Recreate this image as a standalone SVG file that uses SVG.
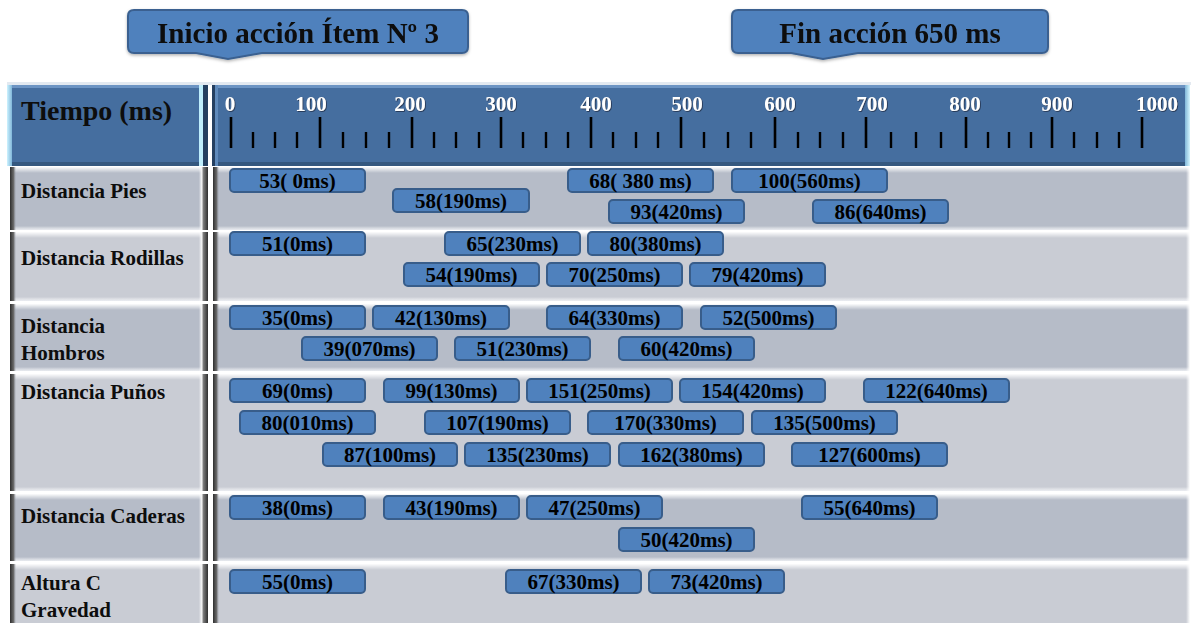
<svg xmlns="http://www.w3.org/2000/svg" width="1192" height="623" viewBox="0 0 1192 623">
  <defs>
    <linearGradient id="topHi" x1="0" y1="0" x2="0" y2="1">
      <stop offset="0" stop-color="#ffffff" stop-opacity="0.95"/>
      <stop offset="1" stop-color="#ffffff" stop-opacity="0"/>
    </linearGradient>
    <linearGradient id="botHi" x1="0" y1="0" x2="0" y2="1">
      <stop offset="0" stop-color="#ffffff" stop-opacity="0"/>
      <stop offset="1" stop-color="#eef0f4" stop-opacity="0.9"/>
    </linearGradient>
    <linearGradient id="leftDk" x1="0" y1="0" x2="1" y2="0">
      <stop offset="0" stop-color="#2e2e2e"/>
      <stop offset="0.6" stop-color="#6a6a6a"/>
      <stop offset="1" stop-color="#8a8f99" stop-opacity="0"/>
    </linearGradient>
    <linearGradient id="rightDk" x1="0" y1="0" x2="1" y2="0">
      <stop offset="0" stop-color="#ffffff" stop-opacity="0"/>
      <stop offset="0.3" stop-color="#f4f4f4"/>
      <stop offset="0.5" stop-color="#7a7a7a"/>
      <stop offset="1" stop-color="#2e2e2e"/>
    </linearGradient>
    <linearGradient id="rightHi" x1="0" y1="0" x2="1" y2="0">
      <stop offset="0" stop-color="#ffffff" stop-opacity="0"/>
      <stop offset="1" stop-color="#ffffff"/>
    </linearGradient>
    <linearGradient id="hdrCyanL" x1="0" y1="0" x2="1" y2="0">
      <stop offset="0" stop-color="#cdf3ff"/>
      <stop offset="1" stop-color="#7fb6d9"/>
    </linearGradient>
    <linearGradient id="hdrCyanR" x1="0" y1="0" x2="1" y2="0">
      <stop offset="0" stop-color="#7fb6d9"/>
      <stop offset="1" stop-color="#d6f7ff"/>
    </linearGradient>
    <filter id="lblShadow" x="-20%" y="-20%" width="140%" height="140%">
      <feDropShadow dx="0.8" dy="0.8" stdDeviation="0.6" flood-color="#1a2a40" flood-opacity="0.9"/>
    </filter>
    <filter id="boxShadow" x="-5%" y="-10%" width="110%" height="130%">
      <feDropShadow dx="0" dy="1.5" stdDeviation="1.5" flood-color="#000" flood-opacity="0.3"/>
    </filter>
  </defs>
  <style>
    text { font-family: "Liberation Serif", "Times New Roman", serif; font-weight: bold; }
    .callout { fill: #4f81bd; stroke: #3a6190; stroke-width: 2; }
    .callTxt { font-size: 29px; fill: #0d0d0d; text-anchor: middle; }
    .hdr { fill: #456e9f; }
    .hdrTop { fill: #6c94c3; }
    .hdrBot { fill: #35587f; }
    .hdrTitle { font-size: 28px; fill: #0d0d0d; }
    .tickLbl { font-size: 21px; fill: #ffffff; text-anchor: middle; }
    .major { stroke: #000; stroke-width: 2.6; }
    .minor { stroke: #000; stroke-width: 2.4; }
    .cellA { fill: #b6bcc8; }
    .cellB { fill: #c9ccd4; }
    .rowLbl { font-size: 21px; fill: #0d0d0d; }
    .bar rect { fill: #4f81bd; stroke: #385d8a; stroke-width: 2; }
    .bar text { font-size: 21px; fill: #000; text-anchor: middle; }
  </style>

  <rect width="1192" height="623" fill="#ffffff"/>

  <!-- Callouts -->
  <g id="callout-inicio" filter="url(#boxShadow)">
    <path class="callout" d="M134,10 H462 Q468,10 468,16 V47 Q468,53 462,53 H262 L228,59 L196,53 H134 Q128,53 128,47 V16 Q128,10 134,10 Z"/>
    <text class="callTxt" x="298" y="43">Inicio acción Ítem Nº 3</text>
  </g>
  <g id="callout-fin" filter="url(#boxShadow)">
    <path class="callout" d="M738,10 H1042 Q1048,10 1048,16 V47 Q1048,53 1042,53 H858 L823,59 L791,53 H738 Q732,53 732,47 V16 Q732,10 738,10 Z"/>
    <text class="callTxt" x="890" y="43">Fin acción 650 ms</text>
  </g>

  <!-- table top line -->
  <rect x="7" y="82" width="1184" height="3" fill="#e3e9f0"/>

  <!-- Header -->
  <g id="header-label">
    <rect class="hdr" x="7" y="85" width="201" height="81"/>
    <rect class="hdrTop" x="7" y="85" width="201" height="3"/>
    <rect class="hdrBot" x="7" y="162" width="201" height="4"/>
    <rect x="7" y="85" width="5" height="81" fill="url(#hdrCyanL)"/>
    <rect x="199" y="85" width="4" height="81" fill="#bfeefc"/>
    <rect x="203" y="85" width="5" height="81" fill="#243f60"/>
    <text class="hdrTitle" x="21" y="120">Tiempo (ms)</text>
  </g>
  <g id="header-scale">
    <rect class="hdr" x="212" y="85" width="978" height="81"/>
    <rect class="hdrTop" x="212" y="85" width="978" height="3"/>
    <rect class="hdrBot" x="212" y="162" width="978" height="4"/>
    <rect x="212" y="85" width="3" height="81" fill="#243f60"/>
    <rect x="215" y="85" width="3" height="81" fill="#5f8abb"/>
    <rect x="1185" y="85" width="5" height="81" fill="url(#hdrCyanR)"/>
    <g filter="url(#lblShadow)">
      <text class="tickLbl" x="230" y="111">0</text>
      <text class="tickLbl" x="311" y="111">100</text>
      <text class="tickLbl" x="410" y="111">200</text>
      <text class="tickLbl" x="501" y="111">300</text>
      <text class="tickLbl" x="596" y="111">400</text>
      <text class="tickLbl" x="687" y="111">500</text>
      <text class="tickLbl" x="780" y="111">600</text>
      <text class="tickLbl" x="872" y="111">700</text>
      <text class="tickLbl" x="965" y="111">800</text>
      <text class="tickLbl" x="1057" y="111">900</text>
      <text class="tickLbl" x="1157" y="111">1000</text>
    </g>
    <g class="major">
      <line x1="231" y1="117" x2="231" y2="148"/>
      <line x1="320" y1="117" x2="320" y2="148"/>
      <line x1="412" y1="117" x2="412" y2="148"/>
      <line x1="501" y1="117" x2="501" y2="148"/>
      <line x1="591" y1="117" x2="591" y2="148"/>
      <line x1="681" y1="117" x2="681" y2="148"/>
      <line x1="775" y1="117" x2="775" y2="148"/>
      <line x1="866" y1="117" x2="866" y2="148"/>
      <line x1="966" y1="117" x2="966" y2="148"/>
      <line x1="1052" y1="117" x2="1052" y2="148"/>
      <line x1="1142" y1="117" x2="1142" y2="148"/>
    </g>
    <g class="minor">
      <line x1="253" y1="132" x2="253" y2="148"/>
      <line x1="275" y1="132" x2="275" y2="148"/>
      <line x1="297" y1="132" x2="297" y2="148"/>
      <line x1="343" y1="132" x2="343" y2="148"/>
      <line x1="366" y1="132" x2="366" y2="148"/>
      <line x1="389" y1="132" x2="389" y2="148"/>
      <line x1="434" y1="132" x2="434" y2="148"/>
      <line x1="456" y1="132" x2="456" y2="148"/>
      <line x1="479" y1="132" x2="479" y2="148"/>
      <line x1="523" y1="132" x2="523" y2="148"/>
      <line x1="546" y1="132" x2="546" y2="148"/>
      <line x1="568" y1="132" x2="568" y2="148"/>
      <line x1="613" y1="132" x2="613" y2="148"/>
      <line x1="636" y1="132" x2="636" y2="148"/>
      <line x1="658" y1="132" x2="658" y2="148"/>
      <line x1="704" y1="132" x2="704" y2="148"/>
      <line x1="728" y1="132" x2="728" y2="148"/>
      <line x1="751" y1="132" x2="751" y2="148"/>
      <line x1="798" y1="132" x2="798" y2="148"/>
      <line x1="820" y1="132" x2="820" y2="148"/>
      <line x1="843" y1="132" x2="843" y2="148"/>
      <line x1="891" y1="132" x2="891" y2="148"/>
      <line x1="916" y1="132" x2="916" y2="148"/>
      <line x1="941" y1="132" x2="941" y2="148"/>
      <line x1="988" y1="132" x2="988" y2="148"/>
      <line x1="1009" y1="132" x2="1009" y2="148"/>
      <line x1="1031" y1="132" x2="1031" y2="148"/>
      <line x1="1074" y1="132" x2="1074" y2="148"/>
      <line x1="1097" y1="132" x2="1097" y2="148"/>
      <line x1="1119" y1="132" x2="1119" y2="148"/>
    </g>
  </g>

  <!-- Row 1 -->
  <g id="row-pies">
    <rect class="cellA" x="10" y="167" width="198" height="63"/>
    <rect x="10" y="167" width="198" height="6" fill="url(#topHi)"/>
    <rect x="10" y="226" width="198" height="4" fill="url(#botHi)"/>
    <rect x="10" y="167" width="6" height="63" fill="url(#leftDk)"/>
    <rect x="199" y="167" width="9" height="63" fill="url(#rightDk)"/>
    <rect class="cellA" x="213" y="167" width="977" height="63"/>
    <rect x="213" y="167" width="977" height="6" fill="url(#topHi)"/>
    <rect x="213" y="226" width="977" height="4" fill="url(#botHi)"/>
    <rect x="213" y="167" width="6" height="63" fill="url(#leftDk)"/>
    <rect x="1186" y="167" width="4" height="63" fill="url(#rightHi)"/>
    <text class="rowLbl" x="21" y="198">Distancia Pies</text>
  </g>
  <!-- Row 2 -->
  <g id="row-rodillas">
    <rect class="cellB" x="10" y="232" width="198" height="69"/>
    <rect x="10" y="232" width="198" height="6" fill="url(#topHi)"/>
    <rect x="10" y="297" width="198" height="4" fill="url(#botHi)"/>
    <rect x="10" y="232" width="6" height="69" fill="url(#leftDk)"/>
    <rect x="199" y="232" width="9" height="69" fill="url(#rightDk)"/>
    <rect class="cellB" x="213" y="232" width="977" height="69"/>
    <rect x="213" y="232" width="977" height="6" fill="url(#topHi)"/>
    <rect x="213" y="297" width="977" height="4" fill="url(#botHi)"/>
    <rect x="213" y="232" width="6" height="69" fill="url(#leftDk)"/>
    <rect x="1186" y="232" width="4" height="69" fill="url(#rightHi)"/>
    <text class="rowLbl" x="21" y="265">Distancia Rodillas</text>
  </g>
  <!-- Row 3 -->
  <g id="row-hombros">
    <rect class="cellA" x="10" y="304" width="198" height="67"/>
    <rect x="10" y="304" width="198" height="6" fill="url(#topHi)"/>
    <rect x="10" y="367" width="198" height="4" fill="url(#botHi)"/>
    <rect x="10" y="304" width="6" height="67" fill="url(#leftDk)"/>
    <rect x="199" y="304" width="9" height="67" fill="url(#rightDk)"/>
    <rect class="cellA" x="213" y="304" width="977" height="67"/>
    <rect x="213" y="304" width="977" height="6" fill="url(#topHi)"/>
    <rect x="213" y="367" width="977" height="4" fill="url(#botHi)"/>
    <rect x="213" y="304" width="6" height="67" fill="url(#leftDk)"/>
    <rect x="1186" y="304" width="4" height="67" fill="url(#rightHi)"/>
    <text class="rowLbl" x="21" y="333">Distancia</text>
    <text class="rowLbl" x="21" y="360">Hombros</text>
  </g>
  <!-- Row 4 -->
  <g id="row-punos">
    <rect class="cellB" x="10" y="374" width="198" height="117"/>
    <rect x="10" y="374" width="198" height="6" fill="url(#topHi)"/>
    <rect x="10" y="487" width="198" height="4" fill="url(#botHi)"/>
    <rect x="10" y="374" width="6" height="117" fill="url(#leftDk)"/>
    <rect x="199" y="374" width="9" height="117" fill="url(#rightDk)"/>
    <rect class="cellB" x="213" y="374" width="977" height="117"/>
    <rect x="213" y="374" width="977" height="6" fill="url(#topHi)"/>
    <rect x="213" y="487" width="977" height="4" fill="url(#botHi)"/>
    <rect x="213" y="374" width="6" height="117" fill="url(#leftDk)"/>
    <rect x="1186" y="374" width="4" height="117" fill="url(#rightHi)"/>
    <text class="rowLbl" x="21" y="399">Distancia Puños</text>
  </g>
  <!-- Row 5 -->
  <g id="row-caderas">
    <rect class="cellA" x="10" y="494" width="198" height="67"/>
    <rect x="10" y="494" width="198" height="6" fill="url(#topHi)"/>
    <rect x="10" y="557" width="198" height="4" fill="url(#botHi)"/>
    <rect x="10" y="494" width="6" height="67" fill="url(#leftDk)"/>
    <rect x="199" y="494" width="9" height="67" fill="url(#rightDk)"/>
    <rect class="cellA" x="213" y="494" width="977" height="67"/>
    <rect x="213" y="494" width="977" height="6" fill="url(#topHi)"/>
    <rect x="213" y="557" width="977" height="4" fill="url(#botHi)"/>
    <rect x="213" y="494" width="6" height="67" fill="url(#leftDk)"/>
    <rect x="1186" y="494" width="4" height="67" fill="url(#rightHi)"/>
    <text class="rowLbl" x="21" y="523">Distancia Caderas</text>
  </g>
  <!-- Row 6 -->
  <g id="row-altura">
    <rect class="cellB" x="10" y="564" width="198" height="62"/>
    <rect x="10" y="564" width="198" height="6" fill="url(#topHi)"/>
    <rect x="10" y="564" width="6" height="62" fill="url(#leftDk)"/>
    <rect x="199" y="564" width="9" height="62" fill="url(#rightDk)"/>
    <rect class="cellB" x="213" y="564" width="977" height="62"/>
    <rect x="213" y="564" width="977" height="6" fill="url(#topHi)"/>
    <rect x="213" y="564" width="6" height="62" fill="url(#leftDk)"/>
    <rect x="1186" y="564" width="4" height="62" fill="url(#rightHi)"/>
    <text class="rowLbl" x="21" y="590">Altura C</text>
    <text class="rowLbl" x="21" y="617">Gravedad</text>
  </g>

  <!-- Bars -->
  <g id="bars-pies">
    <g class="bar" id="b-pies-1"><rect x="230" y="169" width="135" height="23" rx="4"/><text x="297.5" y="188">53( 0ms)</text></g>
    <g class="bar" id="b-pies-2"><rect x="393" y="189" width="136" height="23" rx="4"/><text x="461" y="208">58(190ms)</text></g>
    <g class="bar" id="b-pies-3"><rect x="568" y="169" width="145" height="23" rx="4"/><text x="640.5" y="188">68( 380 ms)</text></g>
    <g class="bar" id="b-pies-4"><rect x="732" y="169" width="155" height="23" rx="4"/><text x="809.5" y="188">100(560ms)</text></g>
    <g class="bar" id="b-pies-5"><rect x="609" y="200" width="135" height="23" rx="4"/><text x="676.5" y="219">93(420ms)</text></g>
    <g class="bar" id="b-pies-6"><rect x="813" y="200" width="135" height="23" rx="4"/><text x="880.5" y="219">86(640ms)</text></g>
  </g>
  <g id="bars-rodillas">
    <g class="bar" id="b-rod-1"><rect x="230" y="232" width="135" height="23" rx="4"/><text x="297.5" y="251">51(0ms)</text></g>
    <g class="bar" id="b-rod-2"><rect x="445" y="232" width="135" height="23" rx="4"/><text x="512.5" y="251">65(230ms)</text></g>
    <g class="bar" id="b-rod-3"><rect x="588" y="232" width="135" height="23" rx="4"/><text x="655.5" y="251">80(380ms)</text></g>
    <g class="bar" id="b-rod-4"><rect x="404" y="263" width="135" height="23" rx="4"/><text x="471.5" y="282">54(190ms)</text></g>
    <g class="bar" id="b-rod-5"><rect x="547" y="263" width="135" height="23" rx="4"/><text x="614.5" y="282">70(250ms)</text></g>
    <g class="bar" id="b-rod-6"><rect x="690" y="263" width="135" height="23" rx="4"/><text x="757.5" y="282">79(420ms)</text></g>
  </g>
  <g id="bars-hombros">
    <g class="bar" id="b-hom-1"><rect x="230" y="306" width="135" height="23" rx="4"/><text x="297.5" y="325">35(0ms)</text></g>
    <g class="bar" id="b-hom-2"><rect x="373" y="306" width="136" height="23" rx="4"/><text x="441" y="325">42(130ms)</text></g>
    <g class="bar" id="b-hom-3"><rect x="547" y="306" width="135" height="23" rx="4"/><text x="614.5" y="325">64(330ms)</text></g>
    <g class="bar" id="b-hom-4"><rect x="701" y="306" width="135" height="23" rx="4"/><text x="768.5" y="325">52(500ms)</text></g>
    <g class="bar" id="b-hom-5"><rect x="302" y="337" width="135" height="23" rx="4"/><text x="369.5" y="356">39(070ms)</text></g>
    <g class="bar" id="b-hom-6"><rect x="455" y="337" width="135" height="23" rx="4"/><text x="522.5" y="356">51(230ms)</text></g>
    <g class="bar" id="b-hom-7"><rect x="619" y="337" width="135" height="23" rx="4"/><text x="686.5" y="356">60(420ms)</text></g>
  </g>
  <g id="bars-punos">
    <g class="bar" id="b-pun-1"><rect x="230" y="379" width="135" height="23" rx="4"/><text x="297.5" y="398">69(0ms)</text></g>
    <g class="bar" id="b-pun-2"><rect x="384" y="379" width="135" height="23" rx="4"/><text x="451.5" y="398">99(130ms)</text></g>
    <g class="bar" id="b-pun-3"><rect x="527" y="379" width="145" height="23" rx="4"/><text x="599.5" y="398">151(250ms)</text></g>
    <g class="bar" id="b-pun-4"><rect x="680" y="379" width="145" height="23" rx="4"/><text x="752.5" y="398">154(420ms)</text></g>
    <g class="bar" id="b-pun-5"><rect x="864" y="379" width="145" height="23" rx="4"/><text x="936.5" y="398">122(640ms)</text></g>
    <g class="bar" id="b-pun-6"><rect x="240" y="411" width="135" height="23" rx="4"/><text x="307.5" y="430">80(010ms)</text></g>
    <g class="bar" id="b-pun-7"><rect x="425" y="411" width="145" height="23" rx="4"/><text x="497.5" y="430">107(190ms)</text></g>
    <g class="bar" id="b-pun-8"><rect x="588" y="411" width="155" height="23" rx="4"/><text x="665.5" y="430">170(330ms)</text></g>
    <g class="bar" id="b-pun-9"><rect x="752" y="411" width="145" height="23" rx="4"/><text x="824.5" y="430">135(500ms)</text></g>
    <g class="bar" id="b-pun-10"><rect x="323" y="443" width="134" height="23" rx="4"/><text x="390" y="462">87(100ms)</text></g>
    <g class="bar" id="b-pun-11"><rect x="465" y="443" width="145" height="23" rx="4"/><text x="537.5" y="462">135(230ms)</text></g>
    <g class="bar" id="b-pun-12"><rect x="619" y="443" width="145" height="23" rx="4"/><text x="691.5" y="462">162(380ms)</text></g>
    <g class="bar" id="b-pun-13"><rect x="792" y="443" width="155" height="23" rx="4"/><text x="869.5" y="462">127(600ms)</text></g>
  </g>
  <g id="bars-caderas">
    <g class="bar" id="b-cad-1"><rect x="230" y="496" width="135" height="23" rx="4"/><text x="297.5" y="515">38(0ms)</text></g>
    <g class="bar" id="b-cad-2"><rect x="384" y="496" width="135" height="23" rx="4"/><text x="451.5" y="515">43(190ms)</text></g>
    <g class="bar" id="b-cad-3"><rect x="527" y="496" width="135" height="23" rx="4"/><text x="594.5" y="515">47(250ms)</text></g>
    <g class="bar" id="b-cad-4"><rect x="802" y="496" width="135" height="23" rx="4"/><text x="869.5" y="515">55(640ms)</text></g>
    <g class="bar" id="b-cad-5"><rect x="619" y="528" width="135" height="23" rx="4"/><text x="686.5" y="547">50(420ms)</text></g>
  </g>
  <g id="bars-altura">
    <g class="bar" id="b-alt-1"><rect x="230" y="570" width="135" height="23" rx="4"/><text x="297.5" y="589">55(0ms)</text></g>
    <g class="bar" id="b-alt-2"><rect x="506" y="570" width="135" height="23" rx="4"/><text x="573.5" y="589">67(330ms)</text></g>
    <g class="bar" id="b-alt-3"><rect x="649" y="570" width="135" height="23" rx="4"/><text x="716.5" y="589">73(420ms)</text></g>
  </g>
</svg>
